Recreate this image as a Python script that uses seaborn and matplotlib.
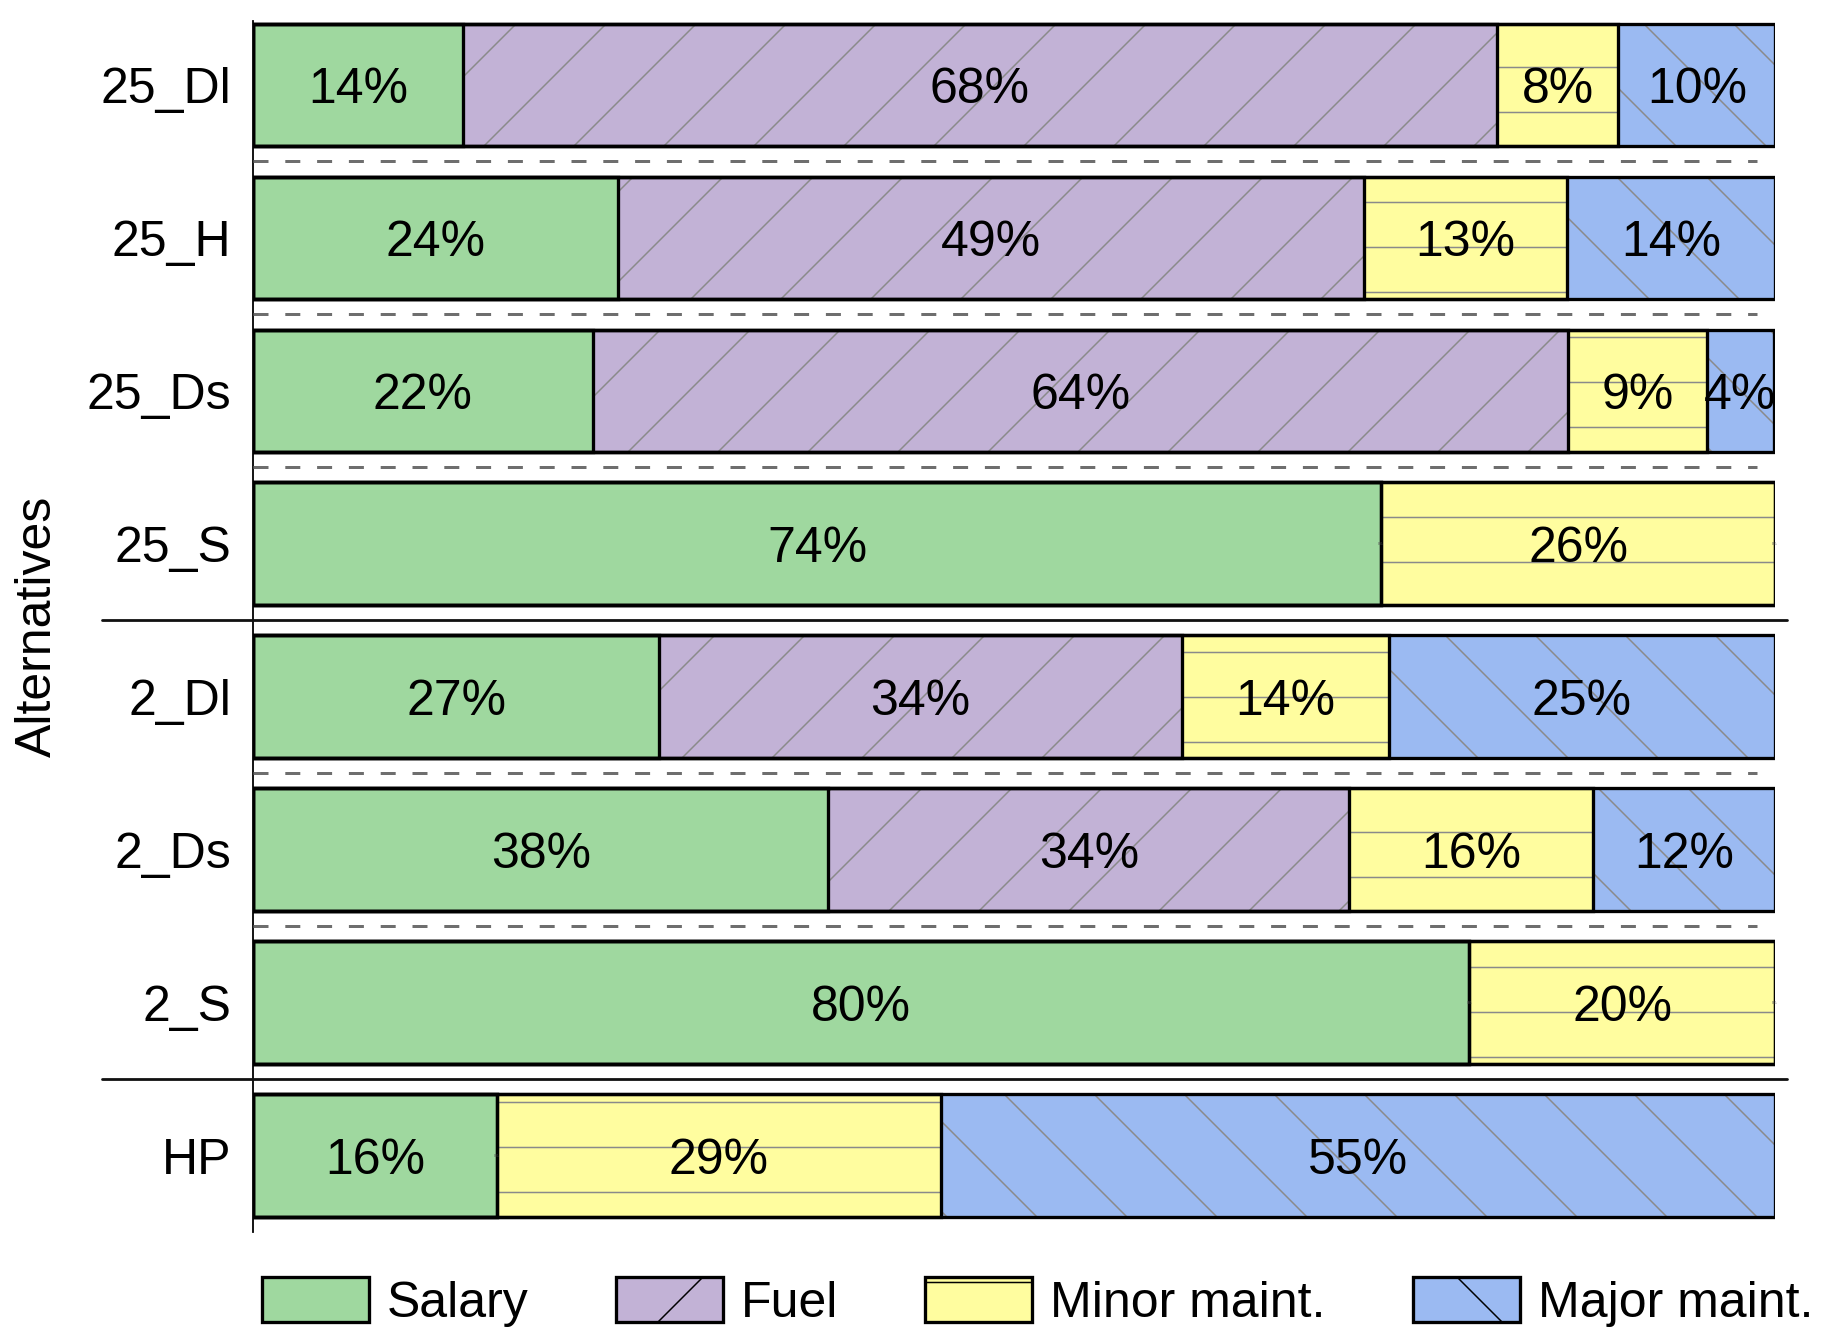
import matplotlib
matplotlib.use('Agg')
import matplotlib.pyplot as plt
from matplotlib.patches import Patch
import numpy as np
import seaborn as sns

# shares of the annual cost per alternative (in %)
alternatives = ['25_Dl', '25_H', '25_Ds', '25_S', '2_Dl', '2_Ds', '2_S', 'HP']
salary = [13.8, 24.0, 22.3, 74.1, 26.7, 37.8, 79.9, 16.0]
fuel = [67.9, 49.0, 64.1, 0.0, 34.3, 34.2, 0.0, 0.0]
minor_maint = [8.0, 13.3, 9.1, 25.9, 13.6, 16.0, 20.1, 29.2]
major_maint = [10.3, 13.7, 4.4, 0.0, 25.4, 12.0, 0.0, 54.8]

cost_names = ['Salary', 'Fuel', 'Minor maint.', 'Major maint.']
cost_colors = ['#9fd89f', '#c2b2d6', '#fffd9f', '#9bbaf2']
cost_hatches = ['', '/', '-', '\\']

# rows after which a separator is drawn
dashed_after = [0, 1, 2, 4, 5]
solid_after = [3, 6]

DPI = 270


def pt(px):
    # pixel size -> points for the chosen dpi
    return px * 72 / DPI


FS = pt(50)
EDGE_LW = pt(3.3)

sns.set_style('ticks')
plt.rcParams['font.family'] = ['Liberation Sans', 'DejaVu Sans']
plt.rcParams['text.color'] = 'black'
plt.rcParams['axes.labelcolor'] = 'black'
plt.rcParams['ytick.color'] = 'black'
plt.rcParams['hatch.color'] = '#8a8a8a'
plt.rcParams['hatch.linewidth'] = pt(1.5)

fig = plt.figure(figsize=(1822 / DPI, 1336 / DPI), dpi=DPI)
ax = fig.add_axes([0.1389, 0.0778, 0.8354, 0.9064])

shares = np.array([salary, fuel, minor_maint, major_maint])
cum = np.cumsum(shares, axis=0)

# stacked bars: draw cumulative totals from the last category to the first
# (grey edge colour only drives the hatch; outlines are drawn afterwards)
for k in range(len(cost_names) - 1, -1, -1):
    sns.barplot(x=cum[k], y=alternatives, orient='h', color=cost_colors[k],
                saturation=1, width=0.8, errorbar=None, edgecolor='#8a8a8a',
                linewidth=0, hatch=cost_hatches[k], ax=ax)
for k in range(len(cost_names) - 1, -1, -1):
    sns.barplot(x=cum[k], y=alternatives, orient='h', fill=False,
                width=0.8, errorbar=None, edgecolor='black', linewidth=EDGE_LW, ax=ax)

# percentage labels in the middle of each segment
for k in range(len(cost_names)):
    for i, alt in enumerate(alternatives):
        v = shares[k, i]
        xc = cum[k, i] - v / 2
        if v > 0:
            ax.text(xc, i, f'{v:.0f}%', ha='center', va='center_baseline', fontsize=FS)
        else:
            ax.text(xc, i, '0%', ha='center', va='center', fontsize=pt(4), color='#555555')

for i in dashed_after:
    ax.plot([0, 98.8], [i + 0.5, i + 0.5], color='#6e6e6e', lw=pt(3),
            dashes=(5.0, 5.6), zorder=3)
for i in solid_after:
    ax.plot([-9.9, 100.8], [i + 0.5, i + 0.5], color='#111111', lw=pt(2.8),
            clip_on=False, zorder=3)

ax.set_xlim(0, 100)
ax.set_ylim(7.5, -0.416)
ax.xaxis.set_visible(False)
for side in ['top', 'right', 'bottom']:
    ax.spines[side].set_visible(False)
ax.spines['left'].set_linewidth(pt(1.8))
ax.spines['left'].set_color('black')
ax.tick_params(axis='y', length=0, pad=pt(22), labelsize=FS)
ax.set_ylabel('Alternatives', fontsize=FS)
ax.yaxis.set_label_coords(-0.1265, 0.5)

handles = [Patch(facecolor=c, edgecolor='black', linewidth=EDGE_LW, hatch=h, label=n)
           for n, c, h in zip(cost_names, cost_colors, cost_hatches)]
leg = fig.legend(handles=handles, loc='center left', bbox_to_anchor=(0.1438, 0.0254),
                 ncol=4, frameon=False, fontsize=FS, handlelength=2.14, handleheight=1.0,
                 handletextpad=0.36, columnspacing=1.74, borderpad=0, borderaxespad=0)

fig.savefig('out.png', dpi=DPI)
